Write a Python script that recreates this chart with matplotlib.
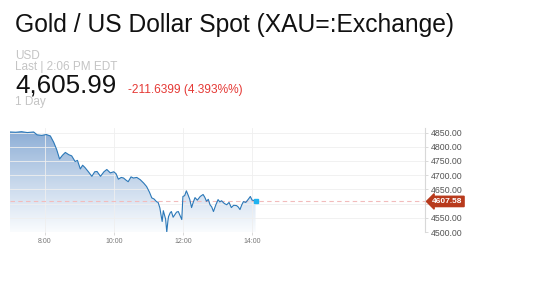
import matplotlib
matplotlib.use('Agg')
import matplotlib.pyplot as plt
import numpy as np
from matplotlib.patches import Polygon

plt.rcParams['font.family'] = ['Liberation Sans', 'DejaVu Sans']

# intraday XAU= quotes
times = ['07:00', '07:10', '07:20', '07:30', '07:41', '07:47', '07:55', '08:03', '08:10', '08:16',
         '08:21', '08:26', '08:31', '08:36', '08:42', '08:47', '08:53', '08:57', '09:02', '09:06',
         '09:10', '09:16', '09:22', '09:27', '09:31', '09:37', '09:43', '09:48', '09:54', '10:00',
         '10:04', '10:08', '10:13', '10:17', '10:21', '10:25', '10:30', '10:34', '10:40', '10:46',
         '10:52', '10:57', '11:02', '11:06', '11:10', '11:14', '11:17', '11:20', '11:22', '11:24',
         '11:26', '11:28', '11:30', '11:32', '11:34', '11:35', '11:38', '11:40', '11:43', '11:46',
         '11:49', '11:52', '11:55', '11:58', '12:00', '12:03', '12:06', '12:09', '12:12', '12:15',
         '12:18', '12:21', '12:25', '12:30', '12:35', '12:38', '12:41', '12:44', '12:47', '12:50',
         '12:53', '12:57', '13:01', '13:04', '13:07', '13:12', '13:16', '13:20', '13:24', '13:28',
         '13:33', '13:36', '13:39', '13:42', '13:45', '13:49', '13:53', '13:57', '14:00', '14:03',
         '14:06']
prices = [4852, 4851, 4853, 4850, 4852, 4842, 4840, 4843, 4838, 4815,
          4790, 4757, 4770, 4780, 4772, 4768, 4748, 4752, 4722, 4735,
          4727, 4712, 4696, 4712, 4713, 4696, 4712, 4720, 4708, 4712,
          4705, 4686, 4692, 4690, 4683, 4677, 4694, 4690, 4692, 4684,
          4672, 4660, 4640, 4620, 4616, 4607, 4604, 4585, 4560, 4537,
          4575, 4560, 4545, 4500, 4540, 4554, 4568, 4572, 4552, 4561,
          4570, 4572, 4558, 4544, 4625, 4628, 4645, 4630, 4614, 4586,
          4605, 4621, 4612, 4625, 4632, 4622, 4608, 4615, 4596, 4588,
          4572, 4595, 4614, 4606, 4610, 4600, 4596, 4604, 4586, 4594,
          4593, 4588, 4579, 4595, 4607, 4604, 4614, 4625, 4612, 4611,
          4607.58]
yticks = [4500, 4550, 4600, 4650, 4700, 4750, 4800, 4850]
xticks = [8, 10, 12, 14]
xtick_labels = ['8:00', '10:00', '12:00', '14:00']
last_marker = 4607.58

hours = np.array([int(t[:2]) + int(t[3:]) / 60 for t in times])
vals = np.array(prices)

W, H = 544, 306
fig = plt.figure(figsize=(W / 100, H / 100), dpi=100)
ax = fig.add_axes([10 / W, 1 - 232 / H, 415 / W, 104 / H])
ymin, ymax = 4500, 4866
ax.set_xlim(7, 19)
ax.set_ylim(ymin, ymax)

# gradient area under the line
grad = np.linspace(0, 1, 256).reshape(-1, 1)
top = np.array([138, 172, 213]) / 255
bot = np.array([250, 252, 254]) / 255
img = top + (bot - top) * grad[:, :, None] ** 0.9
im = ax.imshow(img, aspect='auto', extent=[hours[0], hours[-1], ymin, 4855],
               origin='upper', zorder=1)
poly = Polygon(np.column_stack([np.r_[hours, hours[-1], hours[0]],
                                np.r_[vals, ymin, ymin]]),
               closed=True, facecolor='none', edgecolor='none')
ax.add_patch(poly)
im.set_clip_path(poly)

ax.plot(hours, vals, color='#2b78b8', lw=0.8, zorder=3)
ax.plot(hours[-1], vals[-1], marker='s', ms=2.5, color='#1fb3f0', zorder=4)
ax.axhline(last_marker, color='#f2bcbc', lw=0.8, ls=(0, (4, 3)), zorder=2)

ax.set_yticks(yticks)
# the 4600 label sits under the last-price tag
ax.set_yticklabels(['' if v == 4600 else '%.2f' % v for v in yticks])
ax.set_xticks(xticks)
ax.set_xticklabels(xtick_labels)
ax.yaxis.tick_right()
ax.grid(True, color='#efefef', lw=0.6)
for s in ['top', 'left', 'bottom']:
    ax.spines[s].set_visible(False)
ax.spines['right'].set_color('#d8d8d8')
ax.spines['right'].set_linewidth(0.8)
ax.tick_params(axis='y', length=2, width=0.5, color='#cccccc', labelsize=6.3,
               labelcolor='#555555', pad=2)
ax.tick_params(axis='x', length=2.5, width=0.5, color='#cccccc', labelsize=5,
               labelcolor='#777777', pad=1.5)

ax.text(1.017, last_marker, '%.2f' % last_marker, transform=ax.get_yaxis_transform(),
        ha='left', va='center', fontsize=6.0, fontweight='bold', color='white',
        clip_on=False, zorder=6,
        bbox=dict(boxstyle='larrow,pad=0.2', fc='#b83a1c', ec='#b83a1c'))

def px(x, y):
    return x / W, 1 - y / H

fig.text(*px(15, 32), 'Gold / US Dollar Spot (XAU=:Exchange)', fontsize=17.7,
         color='#111111', va='baseline')
fig.text(*px(15, 59), 'USD', fontsize=8.5, color='#c4c4c4', va='baseline')
fig.text(*px(15, 70), 'Last | 2:06 PM EDT', fontsize=8.5, color='#c4c4c4', va='baseline')
fig.text(*px(15, 93), '4,605.99', fontsize=18.7, color='#111111', va='baseline')
fig.text(*px(128, 93), '-211.6399 (4.393%%)', fontsize=8.6, color='#e53935', va='baseline')
fig.text(*px(15, 105), '1 Day', fontsize=8.5, color='#c4c4c4', va='baseline')

fig.savefig('out.png', dpi=100, facecolor='white')
